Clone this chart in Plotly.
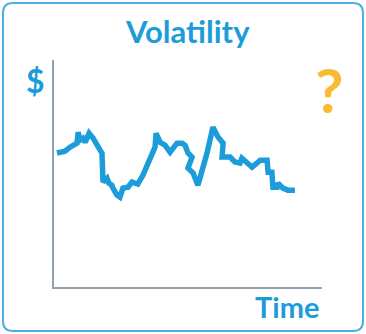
import plotly.graph_objects as go

# Data (time index, price)
time = [1.1, 4.1, 6.0, 8.6, 9.0, 9.7, 10.8, 11.6, 13.1, 14.6, 17.2, 17.9, 18.3, 19.8, 20.5,
        21.6, 22.0, 23.5, 24.6, 25.7, 27.6, 29.1, 30.2, 31.3, 33.2, 35.8, 37.7, 38.1, 39.6,
        41.4, 43.3, 45.9, 47.8, 48.9, 50.0, 51.5, 50.0, 51.9, 53.7, 57.1, 59.3, 61.2, 63.1,
        62.7, 65.7, 67.5, 69.4, 70.1, 72.0, 73.9, 75.7, 76.9, 79.5, 79.9, 81.3, 81.7, 83.2,
        83.6, 85.4, 87.3, 89.9]
price = [59.6, 60.4, 62.2, 64.0, 68.9, 65.3, 66.2, 64.4, 68.4, 66.2, 60.9, 59.6, 46.7, 48.4,
         46.2, 45.3, 44.0, 40.9, 40.0, 44.0, 44.4, 46.7, 46.2, 45.8, 49.8, 56.4, 62.2, 68.4,
         64.4, 63.1, 60.0, 64.0, 64.0, 63.1, 59.6, 57.8, 52.9, 50.7, 45.3, 59.6, 71.1, 66.7,
         64.0, 57.8, 57.8, 55.6, 55.1, 57.3, 55.6, 53.3, 55.1, 56.4, 56.4, 51.1, 51.1, 44.4,
         44.4, 46.2, 44.0, 43.1, 43.1]

title_text = "Volatility"
y_label = "$"
x_label = "Time"
mark = "?"

W, H = 366, 334
BLUE = "#1c9dd9"
AXIS = "#8ea2b4"
FONT = "Lato"

fig = go.Figure()
fig.add_trace(go.Scatter(x=time, y=price, mode="lines",
                         line=dict(color=BLUE, width=5.5), hoverinfo="skip"))

def px_x(p):
    return p / W

def px_y(p):
    return 1 - p / H

# rounded border
x0, x1 = px_x(3), px_x(363)
y0, y1 = px_y(331), px_y(3)
rx, ry = 10 / W, 10 / H
path = (f"M {x0+rx},{y1} L {x1-rx},{y1} Q {x1},{y1} {x1},{y1-ry} "
        f"L {x1},{y0+ry} Q {x1},{y0} {x1-rx},{y0} L {x0+rx},{y0} "
        f"Q {x0},{y0} {x0},{y0+ry} L {x0},{y1-ry} Q {x0},{y1} {x0+rx},{y1} Z")
fig.add_shape(type="path", path=path, xref="paper", yref="paper",
              line=dict(color="#4db0e4", width=2), layer="below")

fig.update_layout(
    width=W, height=H,
    margin=dict(l=0, r=0, t=0, b=0),
    paper_bgcolor="white", plot_bgcolor="white",
    showlegend=False,
    xaxis=dict(domain=[px_x(54), px_x(322)], range=[0, 100], showline=True,
               linecolor=AXIS, linewidth=2, showgrid=False, zeroline=False,
               showticklabels=False, ticks=""),
    yaxis=dict(domain=[px_y(287), px_y(60)], range=[0, 101], showline=True,
               linecolor=AXIS, linewidth=2, showgrid=False, zeroline=False,
               showticklabels=False, ticks=""),
    annotations=[
        dict(text=f"<b>{title_text}</b>", x=px_x(187), y=px_y(31), xref="paper", yref="paper",
             showarrow=False, font=dict(family=FONT, size=31, color=BLUE),
             xanchor="center", yanchor="middle"),
        dict(text=f"<b>{y_label}</b>", x=px_x(35), y=px_y(80), xref="paper", yref="paper",
             showarrow=False, font=dict(family=FONT, size=32, color=BLUE),
             xanchor="center", yanchor="middle"),
        dict(text=f"<b>{x_label}</b>", x=px_x(287), y=px_y(306), xref="paper", yref="paper",
             showarrow=False, font=dict(family=FONT, size=29, color=BLUE),
             xanchor="center", yanchor="middle"),
        dict(text=f"<b>{mark}</b>", x=px_x(329), y=px_y(89), xref="paper", yref="paper",
             showarrow=False, font=dict(family=FONT, size=62, color="#f8bb34"),
             xanchor="center", yanchor="middle"),
    ],
)

fig.write_html("out.html")
